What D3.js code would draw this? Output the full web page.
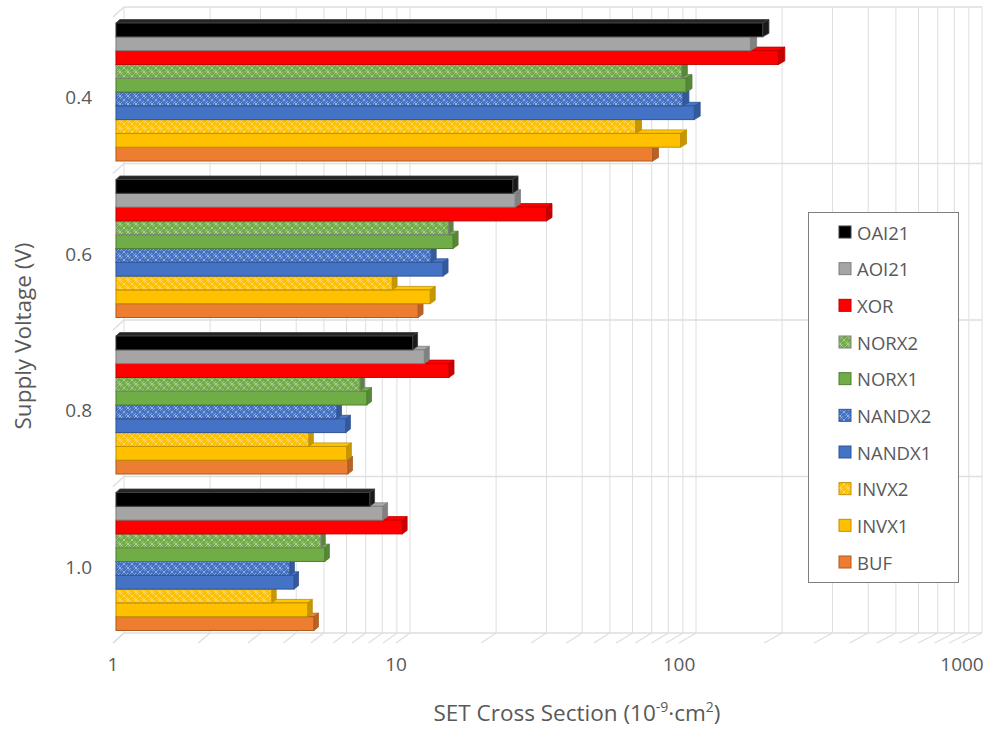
<!DOCTYPE html>
<html>
<head>
<meta charset="utf-8">
<script src="https://cdn.jsdelivr.net/npm/d3@7"></script>
<style>
  html, body { margin: 0; padding: 0; background: #ffffff; }
  svg { display: block; }
  text { font-family: "Open Sans", "Noto Sans", sans-serif; fill: #595959; }
</style>
</head>
<body>
<svg id="chart" width="995" height="729"></svg>
<script>
// ---------------- data ----------------
const categories = ["0.4", "0.6", "0.8", "1.0"];
const seriesNames = ["OAI21", "AOI21", "XOR", "NORX2", "NORX1", "NANDX2", "NANDX1", "INVX2", "INVX1", "BUF"];
const OAI21  = [190, 25.0, 11.1, 7.84];
const AOI21  = [172, 25.5, 12.2, 8.71];
const XOR    = [216, 32.9, 14.9, 10.2];
const NORX2  = [98.4, 14.8, 7.23, 5.27];
const NORX1  = [102, 15.4, 7.65, 5.44];
const NANDX2 = [99.5, 12.9, 6.0, 4.10];
const NANDX1 = [109, 14.2, 6.45, 4.24];
const INVX2  = [67.8, 9.4, 4.78, 3.54];
const INVX1  = [97.6, 12.8, 6.5, 4.74];
const BUF    = [77.8, 11.6, 6.56, 4.98];
const xTickValues = [1, 10, 100, 1000];
const xTitle = "SET Cross Section";
const yTitle = "Supply Voltage  (V)";

const seriesValues = { OAI21, AOI21, XOR, NORX2, NORX1, NANDX2, NANDX1, INVX2, INVX1, BUF };

// ---------------- styles ----------------
const fillColor = { OAI21: "#000000", AOI21: "#a5a5a5", XOR: "#ff0000", NORX2: "#70ad47", NORX1: "#70ad47",
  NANDX2: "#4472c4", NANDX1: "#4472c4", INVX2: "#ffc000", INVX1: "#ffc000", BUF: "#ed7d31" };
const strokeColor = { OAI21: "#3f3f3f", AOI21: "#7f7f7f", XOR: "#c00000", NORX2: "#808080", NORX1: "#507e32",
  NANDX2: "#2f5597", NANDX1: "#2f5597", INVX2: "#bf9000", INVX1: "#bf9000", BUF: "#ae5a21" };
const patterned = { NORX2: true, NANDX2: true, INVX2: true };

// ---------------- geometry ----------------
const svg = d3.select("#chart");
const xFront = d3.scaleLog().domain([1, 1000]).range([113, 962]);
const xBack  = d3.scaleLog().domain([1, 1000]).range([124, 982]);
const DEPTH_Y = 10;
const px = (v, t) => xFront(v) * (1 - t) + xBack(v) * t;
const py = (y, t) => y - DEPTH_Y * t;

const yGroup = d3.scaleBand().domain(categories).range([17, 643]).paddingInner(0).paddingOuter(0);
const ySeries = d3.scaleBand().domain(seriesNames).range([8.7, 146.7]).padding(0);

const gridValues = [];
for (let d = 1; d <= 100; d *= 10) for (let k = 1; k <= 9; k++) gridValues.push(k * d);
gridValues.push(1000);

// ---------------- patterns ----------------
const defs = svg.append("defs");
seriesNames.filter(s => patterned[s]).forEach(s => {
  const p = defs.append("pattern").attr("id", "pat-" + s).attr("patternUnits", "userSpaceOnUse")
    .attr("width", 8).attr("height", 8);
  p.append("rect").attr("width", 8).attr("height", 8).attr("fill", fillColor[s]);
  p.append("path").attr("d", "M0,0L8,8M8,0L0,8M-1,4L4,-1M4,9L9,4")
    .attr("stroke", "rgba(255,255,255,0.6)").attr("stroke-width", 0.9).attr("stroke-dasharray", "1.2,0.8").attr("fill", "none");
});
const frontFill = s => patterned[s] ? `url(#pat-${s})` : fillColor[s];

// ---------------- walls & gridlines ----------------
const grid = svg.append("g");
const gridColor = "#dedede";
const yTop = yGroup.range()[0], yBot = yGroup.range()[1];
grid.selectAll("line.vg").data(gridValues).join("line")
  .attr("x1", d => px(d, 1)).attr("x2", d => px(d, 1))
  .attr("y1", py(yTop, 1)).attr("y2", py(yBot, 1))
  .attr("stroke", gridColor).attr("stroke-width", 1);
const boundaries = categories.map(c => yGroup(c)).concat([yBot]);
grid.selectAll("line.hb").data(boundaries).join("line")
  .attr("x1", px(1, 1)).attr("x2", px(1000, 1))
  .attr("y1", d => py(d, 1)).attr("y2", d => py(d, 1))
  .attr("stroke", gridColor).attr("stroke-width", 1.5);
grid.selectAll("line.lw").data(boundaries).join("line")
  .attr("x1", px(1, 0)).attr("x2", px(1, 1))
  .attr("y1", d => py(d, 0)).attr("y2", d => py(d, 1))
  .attr("stroke", gridColor).attr("stroke-width", 1.5);
grid.selectAll("line.fl").data(gridValues).join("line")
  .attr("x1", d => px(d, 0)).attr("x2", d => px(d, 1))
  .attr("y1", py(yBot, 0)).attr("y2", py(yBot, 1))
  .attr("stroke", gridColor).attr("stroke-width", 1.2);

// ---------------- bars ----------------
const t0 = 0.27, t1 = 0.62;
const barsG = svg.append("g");
const drawOrder = seriesNames.slice().reverse();
categories.forEach((cat, ci) => {
  drawOrder.forEach(s => {
    const v = seriesValues[s][ci];
    const yb = yGroup(cat) + ySeries(s);
    const h = ySeries.bandwidth();
    const g = barsG.append("g");
    const col = d3.color(fillColor[s]);
    const topCol = s === "OAI21" ? "#262626" : col.brighter(0.1).formatHex();
    const sideCol = s === "OAI21" ? "#1a1a1a" : col.darker(0.7).formatHex();
    g.append("path")
      .attr("d", `M${px(1, t0)},${py(yb, t0)}L${px(v, t0)},${py(yb, t0)}L${px(v, t1)},${py(yb, t1)}L${px(1, t1)},${py(yb, t1)}Z`)
      .attr("fill", topCol).attr("stroke", strokeColor[s]).attr("stroke-width", 0.8).attr("stroke-linejoin", "round");
    g.append("path")
      .attr("d", `M${px(v, t0)},${py(yb, t0)}L${px(v, t1)},${py(yb, t1)}L${px(v, t1)},${py(yb + h, t1)}L${px(v, t0)},${py(yb + h, t0)}Z`)
      .attr("fill", sideCol).attr("stroke", strokeColor[s]).attr("stroke-width", 0.8).attr("stroke-linejoin", "round");
    g.append("rect")
      .attr("x", px(1, t0)).attr("y", py(yb, t0))
      .attr("width", px(v, t0) - px(1, t0)).attr("height", h)
      .attr("fill", frontFill(s)).attr("stroke", strokeColor[s]).attr("stroke-width", 1);
  });
});

// ---------------- axes labels ----------------
svg.append("g").selectAll("text").data(xTickValues).join("text")
  .attr("x", d => xFront(d)).attr("y", 664)
  .attr("text-anchor", "middle").attr("dominant-baseline", "central")
  .style("font-size", "19px").text(d => d3.format("d")(d));

svg.append("g").selectAll("text").data(categories).join("text")
  .attr("x", 92).attr("y", d => yGroup(d) + yGroup.bandwidth() / 2 + 2)
  .attr("text-anchor", "end").attr("dominant-baseline", "central")
  .style("font-size", "19px").text(d => d);

const xt = svg.append("text").attr("x", 577).attr("y", 721).attr("text-anchor", "middle").style("font-size", "22.5px");
xt.append("tspan").text(xTitle + " (10");
xt.append("tspan").attr("dy", -9).style("font-size", "14px").text("-9");
xt.append("tspan").attr("dy", 9).text("·cm");
xt.append("tspan").attr("dy", -9).style("font-size", "14px").text("2");
xt.append("tspan").attr("dy", 9).text(")");

svg.append("text").attr("transform", "translate(22,336) rotate(-90)")
  .attr("text-anchor", "middle").attr("dominant-baseline", "central")
  .style("font-size", "22.5px").text(yTitle);

// ---------------- legend ----------------
const lg = svg.append("g");
lg.append("rect").attr("x", 808.5).attr("y", 212.5).attr("width", 150).attr("height", 370)
  .attr("fill", "#ffffff").attr("stroke", "#7f7f7f").attr("stroke-width", 1);
const legY = d3.scalePoint().domain(seriesNames).range([232, 562]);
const items = lg.selectAll("g.item").data(seriesNames).join("g");
items.append("rect").attr("x", 839).attr("y", d => legY(d) - 6).attr("width", 12).attr("height", 12)
  .attr("fill", d => frontFill(d)).attr("stroke", d => strokeColor[d]).attr("stroke-width", 1);
items.append("text").attr("x", 857).attr("y", d => legY(d)).attr("dominant-baseline", "central")
  .style("font-size", "18.5px").style("fill", "#595959").text(d => d);
</script>
</body>
</html>
